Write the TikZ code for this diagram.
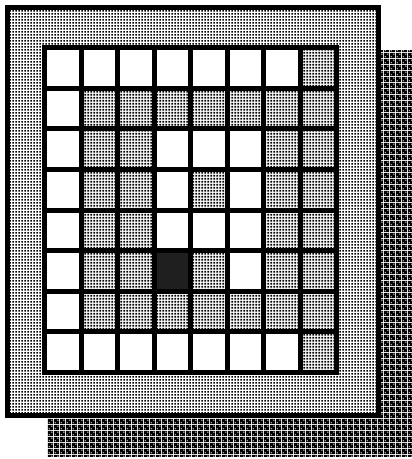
\documentclass[tikz,border=0pt]{standalone}
\usetikzlibrary{patterns.meta}
\definecolor{celldark}{gray}{0.12}
\pgfdeclarepattern{
  name=lightdots, type=uncolored,
  bottom left={\pgfpoint{0pt}{0pt}}, top right={\pgfpoint{3pt}{3pt}},
  tile size={\pgfpoint{3pt}{3pt}},
  code={\pgfpathrectangle{\pgfpoint{0.5pt}{0.5pt}}{\pgfpoint{2pt}{2pt}}\pgfusepath{fill}}
}
\pgfdeclarepattern{
  name=densedots, type=uncolored,
  bottom left={\pgfpoint{0pt}{0pt}}, top right={\pgfpoint{3pt}{3pt}},
  tile size={\pgfpoint{3pt}{3pt}},
  code={\pgfpathrectangle{\pgfpoint{0.35pt}{0.35pt}}{\pgfpoint{2.3pt}{2.3pt}}\pgfusepath{fill}}
}
\pgfdeclarepattern{
  name=checkdots, type=uncolored,
  bottom left={\pgfpoint{0pt}{0pt}}, top right={\pgfpoint{6pt}{6pt}},
  tile size={\pgfpoint{6pt}{6pt}},
  code={\pgfseteorule
        \pgfpathrectangle{\pgfpoint{0pt}{0pt}}{\pgfpoint{6pt}{6pt}}
        \pgfpathcircle{\pgfpoint{1.5pt}{1.5pt}}{1.0pt}
        \pgfpathcircle{\pgfpoint{4.5pt}{4.5pt}}{1.0pt}
        \pgfusepath{fill}}
}
\tikzset{
  shadowbox/.style={preaction={fill=white}, pattern={checkdots}, pattern color=black},
  panelbox/.style={preaction={fill=white}, pattern={lightdots}, pattern color=black, draw=black, line width=5pt},
  gridline/.style={draw=black, line width=5pt, line cap=rect},
  cw/.style={fill=white},
  cd/.style={preaction={fill=white}, pattern={densedots}, pattern color=black},
  ck/.style={fill=celldark},
}
\begin{document}
\begin{tikzpicture}[x=1pt,y=-1pt]
\useasboundingbox (0,0) rectangle (412,459);
% shadow
\path[shadowbox] (47,50) rectangle (412,456);
% panel
\draw[panelbox] (7.5,7.5) rectangle (378.5,415.5);
% cells
\def\xa{44.5}\def\ya{47.5}\def\dx{36.5}\def\dy{40.625}
\foreach \pat [count=\row] in {
  {cw,cw,cw,cw,cw,cw,cw,cd},
  {cw,cd,cd,cd,cd,cd,cd,cd},
  {cw,cd,cd,cw,cw,cw,cd,cd},
  {cw,cd,cd,cw,cd,cw,cd,cd},
  {cw,cd,cd,cw,cw,cw,cd,cd},
  {cw,cd,cd,ck,cd,cw,cd,cd},
  {cw,cd,cd,cd,cd,cd,cd,cd},
  {cw,cw,cw,cw,cw,cw,cw,cd}}{
  \foreach \sty [count=\col] in \pat {
    \path[\sty] ({\xa+(\col-1)*\dx},{\ya+(\row-1)*\dy}) rectangle ({\xa+\col*\dx},{\ya+\row*\dy});
  }
}
% grid lines
\foreach \i in {0,...,8}{
  \draw[gridline] ({\xa+\i*\dx},\ya) -- ({\xa+\i*\dx},{\ya+8*\dy});
  \draw[gridline] (\xa,{\ya+\i*\dy}) -- ({\xa+8*\dx},{\ya+\i*\dy});
}
\end{tikzpicture}
\end{document}
